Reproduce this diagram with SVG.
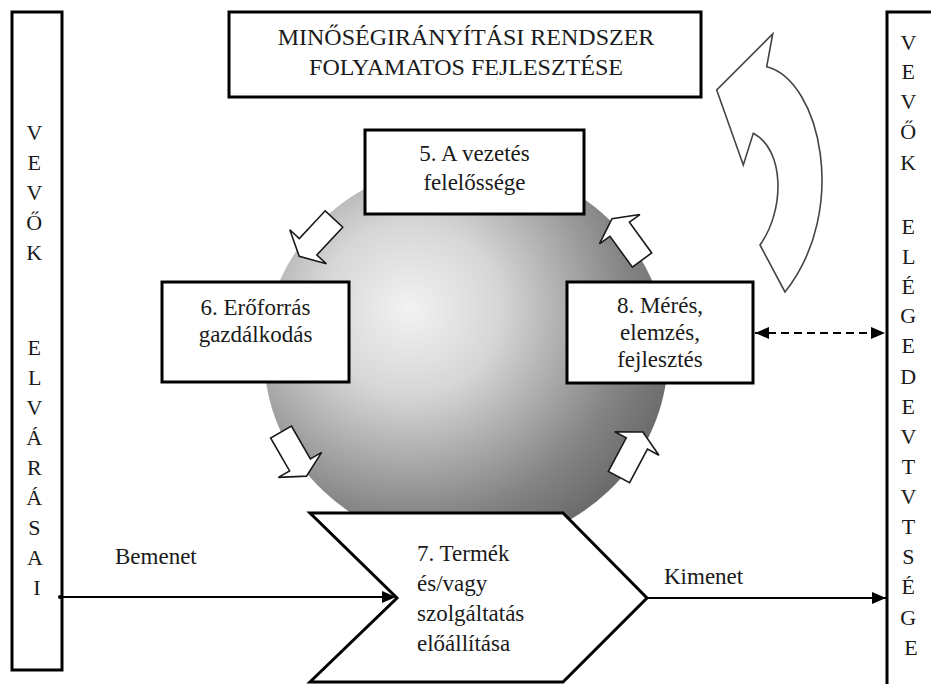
<svg xmlns="http://www.w3.org/2000/svg" width="931" height="684" viewBox="0 0 931 684">
  <defs>
    <style>
      .box { fill: #ffffff; stroke: #000000; stroke-width: 3; }
      .t { font-family: 'Liberation Serif', 'Times New Roman', 'DejaVu Serif', serif; font-size: 23px; fill: #1a1a1a; }
      .title { font-size: 24px; }
      .mid { text-anchor: middle; }
      .col { font-family: 'Liberation Serif', 'Times New Roman', 'DejaVu Serif', serif; font-size: 22px; fill: #1a1a1a; text-anchor: middle; }
      .conn { stroke: #000000; stroke-width: 2; fill: none; }
      .dash { stroke-dasharray: 8 5; }
      .blk { fill: #ffffff; stroke: #1a1a1a; stroke-width: 1.6; stroke-linejoin: miter; }
      .curve { fill: #ffffff; stroke: #444444; stroke-width: 1.6; }
    </style>
    <radialGradient id="sphere" cx="0.36" cy="0.38" r="0.8" fx="0.36" fy="0.38">
      <stop offset="0" stop-color="#f2f2f2"/>
      <stop offset="0.28" stop-color="#d6d6d6"/>
      <stop offset="0.68" stop-color="#848484"/>
      <stop offset="1" stop-color="#555555"/>
    </radialGradient>
    <marker id="head" viewBox="0 0 14 12" refX="14" refY="6" markerWidth="14" markerHeight="12" markerUnits="userSpaceOnUse" orient="auto-start-reverse">
      <path d="M0,0 L14,6 L0,12 Z" fill="#000000"/>
    </marker>
    <!-- block arrow pointing along +x, origin at the middle of the tail -->
    <path id="blockArrow" d="M0,-12 L38,-12 L38,-25 L51,0 L38,25 L38,12 L0,12 Z"/>
  </defs>

  <!-- shaded sphere behind the process cycle -->
  <ellipse cx="466" cy="355" rx="202" ry="192" fill="url(#sphere)"/>

  <!-- customer requirements column -->
  <g id="customer-requirements">
    <rect class="box" x="12" y="12" width="50" height="658"/>
    <text class="col" x="37">
      <tspan x="37" y="140">V</tspan>
      <tspan x="37" y="170">E</tspan>
      <tspan x="37" y="200">V</tspan>
      <tspan x="37" y="230">Ő</tspan>
      <tspan x="37" y="260">K</tspan>
      <tspan x="37" y="355">E</tspan>
      <tspan x="37" y="385">L</tspan>
      <tspan x="37" y="415">V</tspan>
      <tspan x="37" y="445">Á</tspan>
      <tspan x="37" y="475">R</tspan>
      <tspan x="37" y="505">Á</tspan>
      <tspan x="37" y="535">S</tspan>
      <tspan x="37" y="565">A</tspan>
      <tspan x="37" y="595">I</tspan>
    </text>
  </g>

  <!-- customer satisfaction column -->
  <g id="customer-satisfaction">
    <rect class="box" x="887" y="12" width="60" height="700"/>
    <text class="col" x="911">
      <tspan x="911" y="50">V</tspan>
      <tspan x="911" y="79">E</tspan>
      <tspan x="911" y="109">V</tspan>
      <tspan x="911" y="139">Ő</tspan>
      <tspan x="911" y="170">K</tspan>
      <tspan x="911" y="234">E</tspan>
      <tspan x="911" y="264">L</tspan>
      <tspan x="911" y="294">É</tspan>
      <tspan x="911" y="323">G</tspan>
      <tspan x="911" y="353">E</tspan>
      <tspan x="911" y="384">D</tspan>
      <tspan x="911" y="414">E</tspan>
      <tspan x="911" y="444">V</tspan>
      <tspan x="911" y="474">T</tspan>
      <tspan x="911" y="504">V</tspan>
      <tspan x="911" y="534">T</tspan>
      <tspan x="911" y="564">S</tspan>
      <tspan x="911" y="594">É</tspan>
      <tspan x="911" y="625">G</tspan>
      <tspan x="911" y="655">E</tspan>
    </text>
  </g>

  <!-- title box -->
  <g id="continuous-improvement">
    <rect class="box" x="229" y="12" width="472" height="85"/>
    <text class="t title mid" x="466" y="45">MINŐSÉGIRÁNYÍTÁSI RENDSZER</text>
    <text class="t title mid" x="466" y="75">FOLYAMATOS FEJLESZTÉSE</text>
  </g>

  <!-- curved improvement arrow -->
  <g id="improvement-arrow">
    <path class="curve" d="M772.7,34 L766.7,66.7 C820,80 850,210 785,292 L760,245 C785,210 785,150 753.3,133.3 L743.3,165 L716.7,90 Z"/>
  </g>

  <g id="management-responsibility">
    <rect class="box" x="365" y="130" width="219" height="84"/>
    <text class="t mid" x="474.5" y="161">5. A vezetés</text>
    <text class="t mid" x="474.5" y="190">felelőssége</text>
  </g>

  <g id="resource-management">
    <rect class="box" x="162" y="282" width="187" height="100"/>
    <text class="t mid" x="255.5" y="315">6. Erőforrás</text>
    <text class="t mid" x="255.5" y="342">gazdálkodás</text>
  </g>

  <g id="measurement-analysis">
    <rect class="box" x="567" y="282" width="186" height="101"/>
    <text class="t mid" x="660" y="313">8. Mérés,</text>
    <text class="t mid" x="660" y="340">elemzés,</text>
    <text class="t mid" x="660" y="367">fejlesztés</text>
  </g>

  <g id="product-realization">
    <polygon class="box" points="310,513 563,513 647,598 563,682 310,682 397,598"/>
    <text class="t" x="417" y="561">7. Termék</text>
    <text class="t" x="417" y="591">és/vagy</text>
    <text class="t" x="417" y="621">szolgáltatás</text>
    <text class="t" x="417" y="651">előállítása</text>
  </g>

  <!-- cycle arrows around the sphere -->
  <g id="cycle-arrows">
    <use href="#blockArrow" class="blk" transform="translate(334,219) rotate(133)"/>
    <use href="#blockArrow" class="blk" transform="translate(642,260) rotate(-126)"/>
    <use href="#blockArrow" class="blk" transform="translate(281,432) rotate(60)"/>
    <use href="#blockArrow" class="blk" transform="translate(619,477) rotate(-62)"/>
  </g>

  <!-- connectors -->
  <g id="connectors">
    <circle cx="60" cy="597" r="2" fill="#000000"/>
    <line class="conn" x1="60" y1="597" x2="396" y2="597" marker-end="url(#head)"/>
    <line class="conn" x1="647" y1="598" x2="886" y2="598" marker-end="url(#head)"/>
    <line class="conn dash" x1="755" y1="333" x2="885" y2="333" marker-start="url(#head)" marker-end="url(#head)"/>
  </g>
  <text class="t" x="115" y="564">Bemenet</text>
  <text class="t" x="664" y="584">Kimenet</text>
</svg>
